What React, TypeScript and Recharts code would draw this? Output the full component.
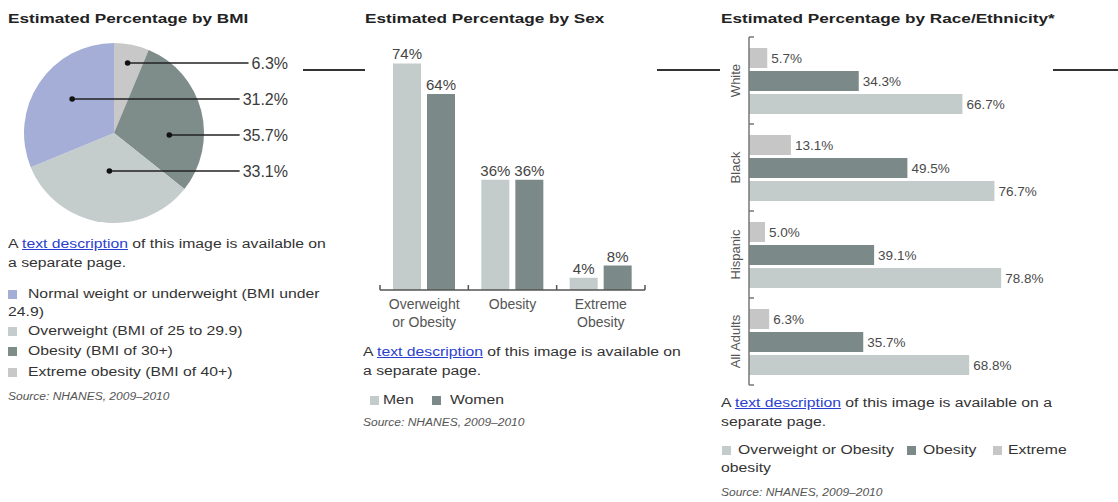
import React from "react";
import { PieChart, Pie, Cell, BarChart, Bar, XAxis, YAxis, LabelList } from "recharts";

const FONT = '"Liberation Sans", Arial, Helvetica, sans-serif';
const RAD = Math.PI / 180;

// --- BMI pie ---
const bmiNames = ["Extreme obesity", "Obesity", "Overweight", "Normal weight or underweight"];
// printed labels
const bmiLabels = [6.3, 35.7, 33.1, 31.2];
// slice sizes: the 35.7% obesity figure already includes the 6.3% extreme slice
const bmiSlices = [6.3, 29.4, 33.1, 31.2];
const bmiColors = ["#c8c8c8", "#7e8d8a", "#c4cccc", "#a5aed6"];

// --- by sex ---
const sexCategories = ["Overweight\nor Obesity", "Obesity", "Extreme\nObesity"];
const menValues = [74, 36, 4];
const womenValues = [64, 36, 8];

// --- by race/ethnicity ---
const raceCategories = ["White", "Black", "Hispanic", "All Adults"];
const extremeValues = [5.7, 13.1, 5.0, 6.3];
const obesityValues = [34.3, 49.5, 39.1, 35.7];
const overweightValues = [66.7, 76.7, 78.8, 68.8];

const LIGHT = "#c3cccb";
const DARK = "#7b8a88";
const GREY = "#c6c6c6";

const bmiData = bmiNames.map((name, i) => ({ name, value: bmiSlices[i] }));
const sexData = sexCategories.map((name, i) => ({ name, men: menValues[i], women: womenValues[i] }));
const raceData = raceCategories.map((name, i) => ({
  name,
  extreme: extremeValues[i],
  obesity: obesityValues[i],
  overweight: overweightValues[i],
}));

// mid angle of each slice, pie starts at 12 o'clock and runs clockwise
const bmiTotal = bmiSlices.reduce((a, b) => a + b, 0);
const bmiMid = bmiSlices.map((v, i) => {
  const before = bmiSlices.slice(0, i).reduce((a, b) => a + b, 0);
  return 90 - (360 * (before + v / 2)) / bmiTotal;
});
// callouts are stacked top to bottom in the order the slices sit
const bmiRank = bmiMid.map(
  (m) => bmiMid.filter((o) => -Math.sin(o * RAD) < -Math.sin(m * RAD)).length
);

function textWidth(s: string, size: number) {
  let w = 0;
  for (const ch of s) w += ch === "." ? 0.278 : ch === "%" ? 0.889 : 0.556;
  return w * size;
}

function renderBmiLabel(props: any) {
  const { cx, cy, outerRadius, index } = props;
  const y = cy - 70 + bmiRank[index] * 36;
  const dotX = cx + outerRadius * 0.6 * Math.cos(bmiMid[index] * RAD) + 3;
  const right = cx + 174;
  const text = bmiLabels[index].toFixed(1) + "%";
  const w = textWidth(text, 16);
  return (
    <g key={`lbl-${index}`}>
      <line x1={dotX} y1={y} x2={right - w - 3} y2={y} stroke="#222" strokeWidth={1.5} />
      <circle cx={dotX} cy={y} r={2.8} fill="#111" />
      <text x={right} y={y} dy="0.36em" textAnchor="end" fontSize={16} fill="#3a3a3a">
        {text}
      </text>
    </g>
  );
}

const SEX_PLOT_W = 265;
function SexTick(props: any) {
  const { x, y, payload, index } = props;
  const band = SEX_PLOT_W / sexCategories.length;
  const lines = String(payload.value).split("\n");
  return (
    <g>
      <line x1={x - band / 2} y1={y - 5} x2={x - band / 2} y2={y} stroke="#555" strokeWidth={1.5} />
      {index === sexCategories.length - 1 && (
        <line x1={x + band / 2} y1={y - 5} x2={x + band / 2} y2={y} stroke="#555" strokeWidth={1.5} />
      )}
      {lines.map((l, i) => (
        <text key={i} x={x} y={y + 19 + i * 18} textAnchor="middle" fontSize={14} fill="#555">
          {l}
        </text>
      ))}
    </g>
  );
}

const RACE_PLOT_H = 348;
function RaceTick(props: any) {
  const { x, y, payload, index } = props;
  const band = RACE_PLOT_H / raceCategories.length;
  return (
    <g>
      <line x1={x} y1={y - band / 2} x2={x + 5} y2={y - band / 2} stroke="#777" strokeWidth={1.5} />
      {index === raceCategories.length - 1 && (
        <line x1={x} y1={y + band / 2} x2={x + 5} y2={y + band / 2} stroke="#777" strokeWidth={1.5} />
      )}
      <text
        x={x - 14}
        y={y}
        dy="0.35em"
        textAnchor="middle"
        fontSize={13}
        fill="#555"
        transform={`rotate(-90, ${x - 14}, ${y})`}
      >
        {payload.value}
      </text>
    </g>
  );
}

function Txt({ x, y, size = 12.5, k = 1.26, bold = false, italic = false, color = "#333", children }: any) {
  return (
    <div
      style={{
        position: "absolute",
        left: x,
        top: y - size / 2,
        fontSize: size,
        lineHeight: `${size}px`,
        whiteSpace: "nowrap",
        transform: `scaleX(${k})`,
        transformOrigin: "0 0",
        fontWeight: bold ? 700 : 400,
        fontStyle: italic ? "italic" : "normal",
        color,
      }}
    >
      {children}
    </div>
  );
}

function Sq({ x, y, color }: any) {
  return <div style={{ position: "absolute", left: x, top: y - 4.5, width: 9, height: 9, background: color }} />;
}

function Rule({ x1, x2 }: any) {
  return <div style={{ position: "absolute", left: x1, top: 69, width: x2 - x1, height: 2, background: "#333" }} />;
}

const link = { color: "#2b3fcf", textDecoration: "underline" };

function Description({ x, y, first, second }: any) {
  return (
    <>
      <Txt x={x} y={y}>
        A <span style={link}>text description</span> {first}
      </Txt>
      <Txt x={x} y={y + 19}>{second}</Txt>
    </>
  );
}

const pctFixed = (v: any) => `${Number(v).toFixed(1)}%`;
const pctInt = (v: any) => `${v}%`;

export default function App() {
  return (
    <div
      style={{
        position: "absolute",
        left: 0,
        top: 0,
        width: 1118,
        height: 502,
        background: "#fff",
        overflow: "hidden",
        fontFamily: FONT,
      }}
    >
      <Rule x1={303} x2={365} />
      <Rule x1={657} x2={720} />
      <Rule x1={1053} x2={1118} />

      {/* BMI */}
      <Txt x={8} y={18.5} size={13} k={1.32} bold color="#222">Estimated Percentage by BMI</Txt>
      <div style={{ position: "absolute", left: 0, top: 0 }}>
        <PieChart width={300} height={230} margin={{ top: 0, right: 0, bottom: 0, left: 0 }}>
          <Pie
            data={bmiData}
            dataKey="value"
            cx={114}
            cy={133}
            outerRadius={90}
            startAngle={90}
            endAngle={-270}
            stroke="none"
            label={renderBmiLabel}
            labelLine={false}
            isAnimationActive={false}
          >
            {bmiData.map((d, i) => (
              <Cell key={d.name} fill={bmiColors[i]} />
            ))}
          </Pie>
        </PieChart>
      </div>
      <Description x={8} y={244} first="of this image is available on" second="a separate page." />
      <Sq x={8} y={294} color={bmiColors[3]} />
      <Txt x={28} y={294}>Normal weight or underweight (BMI under</Txt>
      <Txt x={8} y={312}>24.9)</Txt>
      <Sq x={8} y={331} color={bmiColors[2]} />
      <Txt x={28} y={331}>Overweight (BMI of 25 to 29.9)</Txt>
      <Sq x={8} y={351} color={bmiColors[1]} />
      <Txt x={28} y={351}>Obesity (BMI of 30+)</Txt>
      <Sq x={8} y={372} color={bmiColors[0]} />
      <Txt x={28} y={372}>Extreme obesity (BMI of 40+)</Txt>
      <Txt x={8} y={397} size={10} k={1.2} italic color="#555">Source: NHANES, 2009–2010</Txt>

      {/* Sex */}
      <Txt x={365} y={18.5} size={13} k={1.32} bold color="#222">Estimated Percentage by Sex</Txt>
      <div style={{ position: "absolute", left: 360, top: 30 }}>
        <BarChart
          width={300}
          height={310}
          data={sexData}
          margin={{ top: 15, right: 15, bottom: 0, left: 20 }}
          barSize={28}
          barGap={6}
        >
          <XAxis
            dataKey="name"
            height={50}
            interval={0}
            axisLine={{ stroke: "#555", strokeWidth: 1.5 }}
            tickLine={false}
            tickSize={0}
            tickMargin={0}
            tick={<SexTick />}
          />
          <YAxis hide domain={[0, 80]} />
          <Bar dataKey="men" fill={LIGHT} isAnimationActive={false}>
            <LabelList dataKey="men" position="top" offset={4} formatter={pctInt} fill="#444" fontSize={15} />
          </Bar>
          <Bar dataKey="women" fill={DARK} isAnimationActive={false}>
            <LabelList dataKey="women" position="top" offset={4} formatter={pctInt} fill="#444" fontSize={15} />
          </Bar>
        </BarChart>
      </div>
      <Description x={363} y={352} first="of this image is available on" second="a separate page." />
      <Sq x={370} y={400} color={LIGHT} />
      <Txt x={383} y={400}>Men</Txt>
      <Sq x={432} y={400} color={DARK} />
      <Txt x={450} y={400}>Women</Txt>
      <Txt x={363} y={423} size={10} k={1.2} italic color="#555">Source: NHANES, 2009–2010</Txt>

      {/* Race / ethnicity */}
      <Txt x={721} y={18.5} size={13} k={1.32} bold color="#222">Estimated Percentage by Race/Ethnicity*</Txt>
      <div style={{ position: "absolute", left: 700, top: 25 }}>
        <BarChart
          layout="vertical"
          width={400}
          height={370}
          data={raceData}
          margin={{ top: 12, right: 31, bottom: 10, left: 0 }}
          barSize={20}
          barGap={3}
        >
          <XAxis type="number" hide domain={[0, 100]} />
          <YAxis
            type="category"
            dataKey="name"
            width={49}
            interval={0}
            axisLine={{ stroke: "#777", strokeWidth: 1.5 }}
            tickLine={false}
            tickSize={0}
            tickMargin={0}
            tick={<RaceTick />}
          />
          <Bar dataKey="extreme" fill={GREY} isAnimationActive={false}>
            <LabelList dataKey="extreme" position="right" offset={4} formatter={pctFixed} fill="#4a4a4a" fontSize={13.5} />
          </Bar>
          <Bar dataKey="obesity" fill={DARK} isAnimationActive={false}>
            <LabelList dataKey="obesity" position="right" offset={4} formatter={pctFixed} fill="#4a4a4a" fontSize={13.5} />
          </Bar>
          <Bar dataKey="overweight" fill={LIGHT} isAnimationActive={false}>
            <LabelList dataKey="overweight" position="right" offset={4} formatter={pctFixed} fill="#4a4a4a" fontSize={13.5} />
          </Bar>
        </BarChart>
      </div>
      <Description x={721} y={403} first="of this image is available on a" second="separate page." />
      <Sq x={722} y={450} color={LIGHT} />
      <Txt x={738} y={450}>Overweight or Obesity</Txt>
      <Sq x={907} y={450} color={DARK} />
      <Txt x={923} y={450}>Obesity</Txt>
      <Sq x={993} y={450} color={GREY} />
      <Txt x={1008} y={450}>Extreme</Txt>
      <Txt x={721} y={468}>obesity</Txt>
      <Txt x={721} y={493} size={10} k={1.2} italic color="#555">Source: NHANES, 2009–2010</Txt>
    </div>
  );
}
